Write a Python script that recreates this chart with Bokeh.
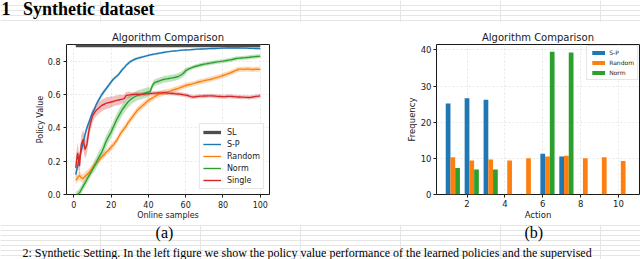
import numpy as np
from bokeh.plotting import figure
from bokeh.models import (Range1d, FixedTicker, PrintfTickFormatter, Legend,
                          LegendItem, Label, ColumnDataSource)
from bokeh.transform import dodge
from bokeh.layouts import column, row
from bokeh.embed import file_html
from bokeh.resources import INLINE

# ---------------- data: left chart ----------------
samples = list(range(1, 101))
sl_value = 0.893

sp_mean = [0.12, 0.17, 0.22, 0.27, 0.31, 0.36, 0.40, 0.43, 0.46, 0.49,
           0.51, 0.54, 0.56, 0.58, 0.60, 0.615, 0.63, 0.645, 0.66, 0.675,
           0.69, 0.70, 0.71, 0.72, 0.735, 0.75, 0.76, 0.775, 0.785, 0.795,
           0.802, 0.808, 0.813, 0.817, 0.82, 0.823, 0.826, 0.829, 0.832, 0.835,
           0.838, 0.84, 0.842, 0.844, 0.846, 0.848, 0.85, 0.852, 0.854, 0.856,
           0.857, 0.859, 0.86, 0.861, 0.862, 0.863, 0.865, 0.866, 0.866, 0.867,
           0.868, 0.868, 0.869, 0.87, 0.871, 0.872, 0.872, 0.873, 0.873, 0.874,
           0.874, 0.875, 0.875, 0.876, 0.876, 0.876, 0.877, 0.877, 0.878, 0.878,
           0.878, 0.879, 0.879, 0.879, 0.879, 0.879, 0.879, 0.879, 0.879, 0.878,
           0.878, 0.878, 0.878, 0.877, 0.877, 0.877, 0.876, 0.876, 0.876, 0.875]
sp_std = [0.03, 0.03, 0.03, 0.03, 0.025, 0.025, 0.02, 0.02, 0.02, 0.02,
          0.015, 0.015, 0.015, 0.015, 0.015, 0.015, 0.012, 0.012, 0.012, 0.012,
          0.01, 0.01, 0.01, 0.01, 0.01, 0.01, 0.01, 0.01, 0.01, 0.01,
          0.008, 0.008, 0.008, 0.008, 0.008, 0.008, 0.007, 0.007, 0.007, 0.007,
          0.006, 0.006, 0.006, 0.006, 0.006, 0.006, 0.006, 0.006, 0.006, 0.006,
          0.005, 0.005, 0.005, 0.005, 0.005, 0.005, 0.005, 0.005, 0.005, 0.005,
          0.005, 0.005, 0.005, 0.005, 0.005, 0.005, 0.005, 0.005, 0.005, 0.005,
          0.005, 0.005, 0.005, 0.005, 0.005, 0.005, 0.005, 0.005, 0.005, 0.005,
          0.005, 0.005, 0.005, 0.005, 0.005, 0.005, 0.005, 0.005, 0.005, 0.005,
          0.005, 0.005, 0.005, 0.005, 0.005, 0.005, 0.005, 0.005, 0.005, 0.005]

rnd_mean = [0.085, 0.10, 0.115, 0.10, 0.095, 0.11, 0.12, 0.13, 0.145, 0.16,
            0.175, 0.19, 0.20, 0.215, 0.225, 0.235, 0.25, 0.26, 0.27, 0.285,
            0.295, 0.31, 0.325, 0.345, 0.365, 0.38, 0.395, 0.41, 0.43, 0.445,
            0.46, 0.475, 0.49, 0.505, 0.515, 0.525, 0.535, 0.545, 0.555, 0.565,
            0.572, 0.578, 0.585, 0.592, 0.598, 0.602, 0.606, 0.61, 0.613, 0.616,
            0.619, 0.622, 0.626, 0.63, 0.633, 0.637, 0.641, 0.645, 0.65, 0.654,
            0.657, 0.66, 0.662, 0.665, 0.668, 0.672, 0.675, 0.678, 0.68, 0.683,
            0.686, 0.688, 0.69, 0.693, 0.697, 0.70, 0.703, 0.706, 0.71, 0.714,
            0.718, 0.722, 0.726, 0.73, 0.735, 0.74, 0.745, 0.75, 0.752, 0.752,
            0.751, 0.752, 0.753, 0.752, 0.751, 0.75, 0.751, 0.752, 0.751, 0.751]
rnd_std = [0.025, 0.025, 0.025, 0.025, 0.025, 0.025, 0.025, 0.025, 0.025, 0.025,
           0.02, 0.02, 0.02, 0.02, 0.02, 0.02, 0.02, 0.02, 0.02, 0.02,
           0.02, 0.02, 0.02, 0.02, 0.02, 0.02, 0.02, 0.02, 0.02, 0.02,
           0.02, 0.02, 0.02, 0.02, 0.02, 0.02, 0.02, 0.02, 0.02, 0.02,
           0.018, 0.018, 0.018, 0.018, 0.018, 0.018, 0.018, 0.018, 0.018, 0.018,
           0.016, 0.016, 0.016, 0.016, 0.016, 0.016, 0.016, 0.016, 0.016, 0.016,
           0.015, 0.015, 0.015, 0.015, 0.015, 0.015, 0.015, 0.015, 0.015, 0.015,
           0.015, 0.015, 0.015, 0.015, 0.015, 0.015, 0.015, 0.015, 0.015, 0.015,
           0.015, 0.015, 0.015, 0.015, 0.015, 0.015, 0.015, 0.015, 0.015, 0.015,
           0.015, 0.015, 0.015, 0.015, 0.015, 0.015, 0.015, 0.015, 0.015, 0.015]

norm_mean = [-0.01, 0.0, 0.01, 0.03, 0.05, 0.07, 0.09, 0.11, 0.13, 0.15,
             0.17, 0.19, 0.215, 0.235, 0.255, 0.28, 0.31, 0.335, 0.355, 0.375,
             0.40, 0.425, 0.45, 0.47, 0.49, 0.51, 0.525, 0.54, 0.555, 0.565,
             0.575, 0.582, 0.588, 0.594, 0.598, 0.60, 0.604, 0.608, 0.612, 0.615,
             0.62, 0.65, 0.668, 0.674, 0.678, 0.682, 0.686, 0.69, 0.692, 0.694,
             0.696, 0.698, 0.70, 0.702, 0.705, 0.708, 0.714, 0.72, 0.73, 0.742,
             0.75, 0.755, 0.76, 0.764, 0.768, 0.771, 0.774, 0.777, 0.78, 0.782,
             0.784, 0.786, 0.788, 0.79, 0.792, 0.794, 0.796, 0.797, 0.799, 0.80,
             0.802, 0.804, 0.806, 0.808, 0.81, 0.813, 0.816, 0.817, 0.818, 0.819,
             0.82, 0.821, 0.822, 0.823, 0.825, 0.826, 0.827, 0.828, 0.829, 0.83]
norm_std = [0.025, 0.025, 0.025, 0.025, 0.025, 0.025, 0.025, 0.025, 0.025, 0.025,
            0.035, 0.035, 0.035, 0.035, 0.035, 0.035, 0.035, 0.035, 0.035, 0.035,
            0.035, 0.035, 0.035, 0.035, 0.035, 0.035, 0.035, 0.035, 0.035, 0.035,
            0.03, 0.03, 0.03, 0.03, 0.03, 0.03, 0.03, 0.03, 0.03, 0.03,
            0.02, 0.02, 0.02, 0.02, 0.02, 0.02, 0.02, 0.02, 0.02, 0.02,
            0.02, 0.02, 0.02, 0.02, 0.02, 0.02, 0.02, 0.02, 0.02, 0.02,
            0.012, 0.012, 0.012, 0.012, 0.012, 0.012, 0.012, 0.012, 0.012, 0.012,
            0.012, 0.012, 0.012, 0.012, 0.012, 0.012, 0.012, 0.012, 0.012, 0.012,
            0.012, 0.012, 0.012, 0.012, 0.012, 0.012, 0.012, 0.012, 0.012, 0.012,
            0.012, 0.012, 0.012, 0.012, 0.012, 0.012, 0.012, 0.012, 0.012, 0.012]

single_mean = [0.16, 0.25, 0.17, 0.30, 0.33, 0.27, 0.30, 0.38, 0.43, 0.47,
               0.49, 0.505, 0.515, 0.525, 0.535, 0.54, 0.545, 0.55, 0.552, 0.555,
               0.558, 0.562, 0.565, 0.567, 0.57, 0.572, 0.575, 0.593, 0.596, 0.598,
               0.60, 0.60, 0.601, 0.602, 0.60, 0.601, 0.602, 0.603, 0.604, 0.605,
               0.606, 0.607, 0.608, 0.608, 0.609, 0.61, 0.61, 0.611, 0.61, 0.609,
               0.608, 0.607, 0.606, 0.605, 0.604, 0.603, 0.602, 0.60, 0.598, 0.596,
               0.594, 0.59, 0.587, 0.585, 0.586, 0.588, 0.589, 0.59, 0.59, 0.591,
               0.591, 0.592, 0.592, 0.592, 0.591, 0.59, 0.589, 0.588, 0.588, 0.587,
               0.587, 0.588, 0.589, 0.589, 0.588, 0.587, 0.586, 0.585, 0.585, 0.584,
               0.584, 0.583, 0.583, 0.582, 0.583, 0.585, 0.587, 0.589, 0.59, 0.592]
single_std = [0.06, 0.06, 0.06, 0.06, 0.06, 0.055, 0.055, 0.05, 0.045, 0.04,
              0.035, 0.035, 0.035, 0.035, 0.035, 0.035, 0.035, 0.035, 0.035, 0.035,
              0.03, 0.03, 0.03, 0.03, 0.03, 0.025, 0.025, 0.02, 0.02, 0.02,
              0.012, 0.012, 0.012, 0.012, 0.012, 0.012, 0.012, 0.012, 0.012, 0.012,
              0.012, 0.012, 0.012, 0.012, 0.012, 0.012, 0.012, 0.012, 0.012, 0.012,
              0.012, 0.012, 0.012, 0.012, 0.012, 0.012, 0.012, 0.012, 0.012, 0.012,
              0.012, 0.012, 0.012, 0.012, 0.012, 0.012, 0.012, 0.012, 0.012, 0.012,
              0.012, 0.012, 0.012, 0.012, 0.012, 0.012, 0.012, 0.012, 0.012, 0.012,
              0.012, 0.012, 0.012, 0.012, 0.012, 0.012, 0.012, 0.012, 0.012, 0.012,
              0.012, 0.012, 0.012, 0.012, 0.012, 0.012, 0.012, 0.012, 0.012, 0.012]

# ---------------- data: right chart ----------------
actions = [1, 2, 3, 4, 5, 6, 7, 8, 9, 10]
freq_sp = [25.2, 26.6, 26.2, 0, 0, 11.3, 10.5, 0, 0, 0]
freq_random = [10.3, 9.4, 9.7, 9.4, 10.0, 10.5, 10.7, 10.0, 10.3, 9.3]
freq_norm = [7.3, 6.9, 6.9, 0, 0, 39.5, 39.3, 0, 0, 0]

# ---------------- texts ----------------
heading_num = "1"
heading = "Synthetic dataset"
chart_title = "Algorithm Comparison"
caption_text = ("2: Synthetic Setting. In the left figure we show the policy value performance "
                "of the learned policies and the supervised")

BLUE, ORANGE, GREEN, RED, GRAY = "#1f77b4", "#ff7f0e", "#2ca02c", "#d62728", "#4d4d4d"
INK = "#1a1a1a"
FONT = "DejaVu Sans"
SERIF = "Liberation Serif"


def style(p, fs, standoff, xlab_standoff, ylab_standoff):
    p.outline_line_color = INK
    p.outline_line_width = 1
    p.title.text_font = FONT
    p.title.text_font_size = "10px"
    p.title.text_font_style = "normal"
    p.title.text_color = INK
    p.title.align = "center"
    p.title.standoff = 3
    for ax in (p.xaxis[0], p.yaxis[0]):
        ax.axis_line_color = None
        ax.major_tick_line_color = INK
        ax.major_tick_out = 3
        ax.major_tick_in = 0
        ax.minor_tick_line_color = None
        ax.major_label_text_font = FONT
        ax.major_label_text_font_size = fs
        ax.major_label_text_color = INK
        ax.major_label_standoff = standoff
        ax.axis_label_text_font = FONT
        ax.axis_label_text_font_size = fs
        ax.axis_label_text_font_style = "normal"
        ax.axis_label_text_color = INK
    p.xaxis[0].axis_label_standoff = xlab_standoff
    p.yaxis[0].axis_label_standoff = ylab_standoff
    for g in (p.xgrid[0], p.ygrid[0]):
        g.grid_line_color = "#e3e3e3"
        g.grid_line_dash = "2 2"
        g.grid_line_width = 0.8


def strip(height, top_px):
    s = figure(width=640, height=height, x_range=Range1d(0, 640),
               y_range=Range1d(top_px + height, top_px), title=None,
               output_backend="svg", toolbar_location=None, min_border=0,
               x_axis_location=None, y_axis_location=None)
    s.outline_line_color = None
    return s


# ---------------- top strip: section heading ----------------
pT = strip(22, 0)
pT.add_layout(Label(x=1, y=8, text=heading_num, text_font=SERIF, text_font_size="18px",
                    text_font_style="bold", text_color="black",
                    text_baseline="alphabetic", text_align="left"))
pT.add_layout(Label(x=22.5, y=8, text=heading, text_font=SERIF, text_font_size="18px",
                    text_font_style="bold", text_color="black",
                    text_baseline="alphabetic", text_align="left"))

# ---------------- left chart ----------------
pA = figure(width=320, height=202, x_range=Range1d(-3.95, 104.95), y_range=Range1d(0, 0.9),
            title=chart_title, output_backend="svg", toolbar_location=None,
            min_border_left=66, min_border_right=51, min_border_top=22, min_border_bottom=30)
style(pA, "8px", 3, 0, 0)
pA.xaxis[0].ticker = FixedTicker(ticks=[0, 20, 40, 60, 80, 100])
pA.yaxis[0].ticker = FixedTicker(ticks=[0.0, 0.2, 0.4, 0.6, 0.8])
pA.yaxis[0].formatter = PrintfTickFormatter(format="%.1f")
pA.xaxis[0].axis_label = "Online samples"
pA.yaxis[0].axis_label = "Policy Value"

x = np.array(samples)
series = [("S-P", sp_mean, sp_std, BLUE), ("Random", rnd_mean, rnd_std, ORANGE),
          ("Norm", norm_mean, norm_std, GREEN), ("Single", single_mean, single_std, RED)]
line_r = {}
for name, m, s, c in series:
    m = np.array(m); s = np.array(s)
    pA.varea(x=x, y1=m - s, y2=m + s, fill_color=c, fill_alpha=0.3)
for name, m, s, c in series:
    line_r[name] = pA.line(x=x, y=np.array(m), line_color=c, line_width=1.4)
r_sl = pA.line(x=x, y=np.full(len(samples), sl_value), line_color=GRAY, line_width=3.3)

legA = Legend(items=[LegendItem(label="SL", renderers=[r_sl])] +
              [LegendItem(label=n, renderers=[line_r[n]]) for n in ("S-P", "Random", "Norm", "Single")],
              location="bottom_right", margin=5, padding=3, spacing=2,
              label_height=10, glyph_height=10, glyph_width=18, label_standoff=6,
              label_text_font=FONT, label_text_font_size="8px", label_text_color=INK,
              border_line_color="#cccccc", background_fill_alpha=0.85)
pA.add_layout(legA)

# ---------------- right chart ----------------
pB = figure(width=320, height=202, x_range=Range1d(0.3875, 11.1125), y_range=Range1d(0, 41.5),
            title=chart_title, output_backend="svg", toolbar_location=None,
            min_border_left=116, min_border_right=1, min_border_top=22, min_border_bottom=30)
style(pB, "8.5px", 2, 0, 1)
pB.xaxis[0].ticker = FixedTicker(ticks=[2, 4, 6, 8, 10])
pB.yaxis[0].ticker = FixedTicker(ticks=[0, 10, 20, 30, 40])
pB.xaxis[0].axis_label = "Action"
pB.yaxis[0].axis_label = "Frequency"

srcB = ColumnDataSource(dict(action=actions, sp=freq_sp, rnd=freq_random, norm=freq_norm))
b1 = pB.vbar(x=dodge("action", 0.0, range=pB.x_range), top="sp", width=0.25, source=srcB,
             fill_color=BLUE, line_color=None)
b2 = pB.vbar(x=dodge("action", 0.25, range=pB.x_range), top="rnd", width=0.25, source=srcB,
             fill_color=ORANGE, line_color=None)
b3 = pB.vbar(x=dodge("action", 0.5, range=pB.x_range), top="norm", width=0.25, source=srcB,
             fill_color=GREEN, line_color=None)
legB = Legend(items=[LegendItem(label="S-P", renderers=[b1]), LegendItem(label="Random", renderers=[b2]),
                     LegendItem(label="Norm", renderers=[b3])],
              location="top_right", margin=1, padding=3, spacing=3,
              label_height=7, glyph_height=5, glyph_width=16, label_standoff=3,
              label_text_font=FONT, label_text_font_size="6px", label_text_color=INK,
              border_line_color="#cccccc", background_fill_alpha=0.85)
pB.add_layout(legB)

# ---------------- bottom strip: sub-captions and figure caption ----------------
pC = strip(35, 224)
pC.add_layout(Label(x=164, y=231.5, text="(a)", text_font=SERIF, text_font_size="16px",
                    text_color="black", text_baseline="alphabetic", text_align="center"))
pC.add_layout(Label(x=533.3, y=231.5, text="(b)", text_font=SERIF, text_font_size="16px",
                    text_color="black", text_baseline="alphabetic", text_align="center"))
pC.add_layout(Label(x=22, y=252, text=caption_text, text_font=SERIF, text_font_size="12px",
                    text_color="black", text_baseline="alphabetic", text_align="left"))

layout = column(pT, row(pA, pB), pC)
open("out.html", "w").write(file_html(layout, INLINE))
